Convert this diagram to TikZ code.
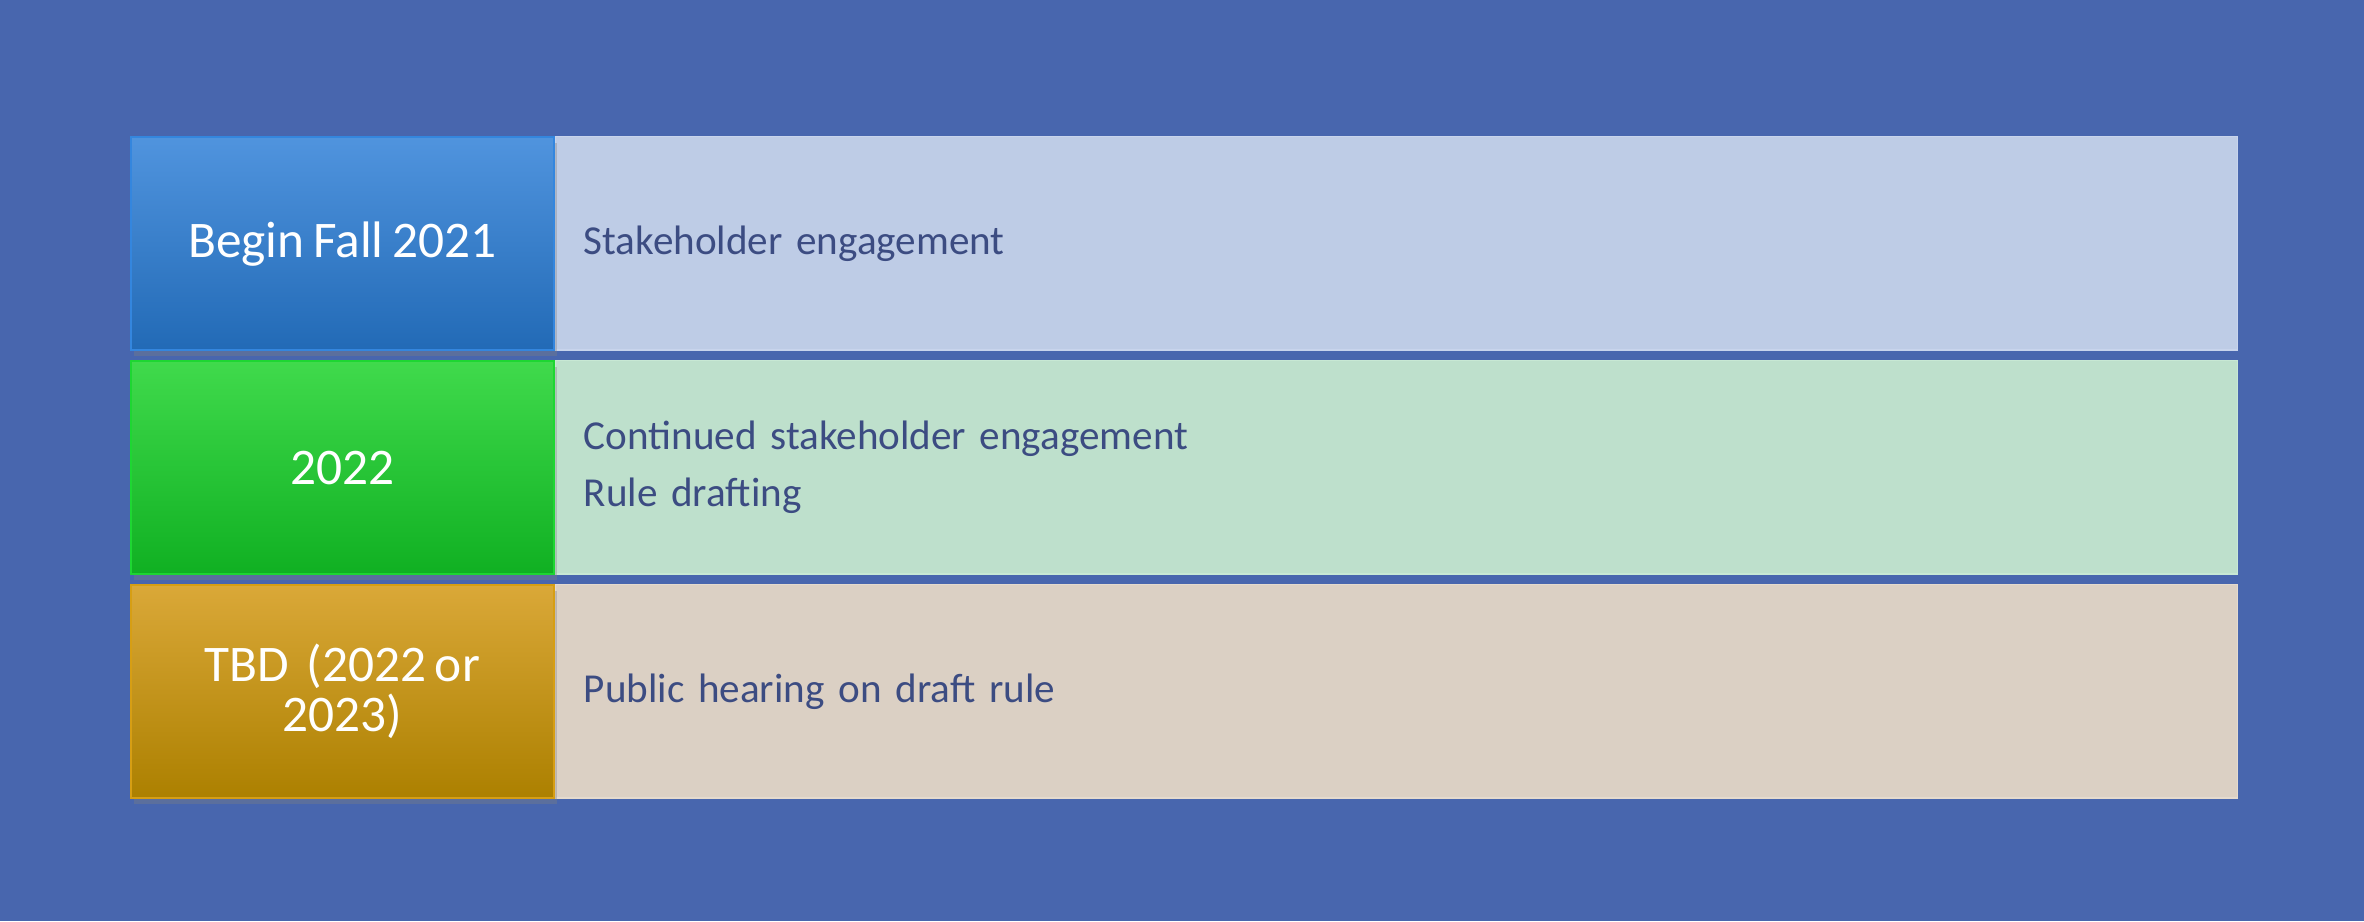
\documentclass[tikz,border=0pt]{standalone}
\usepackage{fontspec}
\setmainfont{Carlito}[WordSpace=0.75]
\usetikzlibrary{positioning}
\usetikzlibrary{shadows}
\definecolor{bgblue}{RGB}{72,102,174}
\definecolor{txtblue}{RGB}{60,76,130}
\tikzset{year/.style={rectangle, minimum width=4.23cm, minimum height=2.13cm, inner sep=0pt,
  align=center, text=white, font=\fontsize{14.6}{14.2}\selectfont, line width=0.6pt,
  drop shadow={shadow xshift=0.3mm, shadow yshift=-0.6mm, opacity=0.35}}}
\tikzset{task/.style={rectangle, minimum width=16.81cm, minimum height=2.13cm, inner xsep=0.28cm,
  text width=16.25cm, align=left, text=txtblue, font=\fontsize{11.7}{16.2}\selectfont, line width=0.4pt}}

\begin{document}
\begin{tikzpicture}[x=0.01cm, y=-0.01cm]
\fill[bgblue] (0,0) rectangle (2364,921);
\useasboundingbox (0,0) rectangle (2364,921);

\node[task, fill={rgb,255:red,190;green,204;blue,230}, draw={rgb,255:red,200;green,212;blue,236}, anchor=north west] (act1) at (555,136) {Stakeholder engagement};
\node[task, fill={rgb,255:red,190;green,224;blue,204}, draw={rgb,255:red,200;green,232;blue,212}, anchor=north west] (act2) at (555,360) {Continued stakeholder engagement\\Rule drafting};
\node[task, fill={rgb,255:red,219;green,208;blue,196}, draw={rgb,255:red,228;green,218;blue,206}, anchor=north west] (act3) at (555,584) {Public hearing on draft rule};

\node[year, top color={rgb,255:red,80;green,148;blue,222}, bottom color={rgb,255:red,34;green,106;blue,182}, draw={rgb,255:red,52;green,134;blue,222}, anchor=north east] (yr1) at (act1.north west) {Begin Fall 2021};
\node[year, top color={rgb,255:red,64;green,218;blue,76}, bottom color={rgb,255:red,16;green,176;blue,34}, draw={rgb,255:red,30;green,214;blue,50}, anchor=north east] (yr2) at (act2.north west) {2022};
\node[year, top color={rgb,255:red,218;green,168;blue,56}, bottom color={rgb,255:red,172;green,128;blue,0}, draw={rgb,255:red,214;green,158;blue,20}, anchor=north east] (yr3) at (act3.north west) {TBD~~(2022 or\\2023)};
\end{tikzpicture}
\end{document}
